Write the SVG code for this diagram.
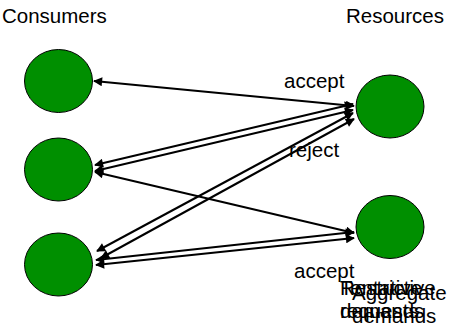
<svg xmlns="http://www.w3.org/2000/svg" width="456" height="333" viewBox="0 0 456 333">
<style>
.n{fill:#008f00;stroke:#000;stroke-width:1}
.t{font-family:"Liberation Sans",Arial,sans-serif;font-size:20.5px;fill:#000}
.c line{stroke:#000;stroke-width:2;marker-start:url(#a);marker-end:url(#a)}
</style>
<defs>
<marker id="a" viewBox="0 0 10 10" refX="9" refY="5" markerWidth="10" markerHeight="9" orient="auto-start-reverse" markerUnits="userSpaceOnUse">
<path d="M0,0 L10,5 L0,10 z" fill="#000"/>
</marker>
</defs>
<rect width="456" height="333" fill="#fff"/>
<text class="t" x="2" y="23">Consumers</text>
<text class="t" x="346" y="23">Resources</text>
<g id="c1"><ellipse class="n" cx="58.5" cy="81" rx="34" ry="31.5"/></g>
<g id="c2"><ellipse class="n" cx="58.5" cy="169.5" rx="34" ry="31.5"/></g>
<g id="c3"><ellipse class="n" cx="58.5" cy="264.5" rx="34" ry="31.5"/></g>
<g id="r1"><ellipse class="n" cx="390" cy="106.5" rx="34" ry="31.5"/></g>
<g id="r2"><ellipse class="n" cx="390" cy="227" rx="34" ry="31.5"/></g>
<g class="c" id="connectors">
<line x1="94" y1="81" x2="354" y2="106"/>
<line x1="95" y1="165" x2="353" y2="104"/>
<line x1="95" y1="171" x2="353" y2="110"/>
<line x1="95" y1="172" x2="354" y2="233"/>
<line x1="97" y1="251" x2="353" y2="113"/>
<line x1="101" y1="258" x2="354" y2="119"/>
<line x1="96" y1="260" x2="354" y2="232"/>
<line x1="96" y1="265" x2="354" y2="238"/>
</g>
<text class="t" x="284" y="88">accept</text>
<text class="t" x="289" y="157">reject</text>
<text class="t" x="294" y="278">accept</text>
<g id="labels">
<text class="t" x="340" y="295">Tentative<tspan x="340" y="318">demands</tspan></text>
<text class="t" x="340" y="295">Restrictive<tspan x="340" y="318">requests</tspan></text>
<text class="t" x="352" y="300">Aggregate<tspan x="352" y="323">demands</tspan></text>
</g>
</svg>
